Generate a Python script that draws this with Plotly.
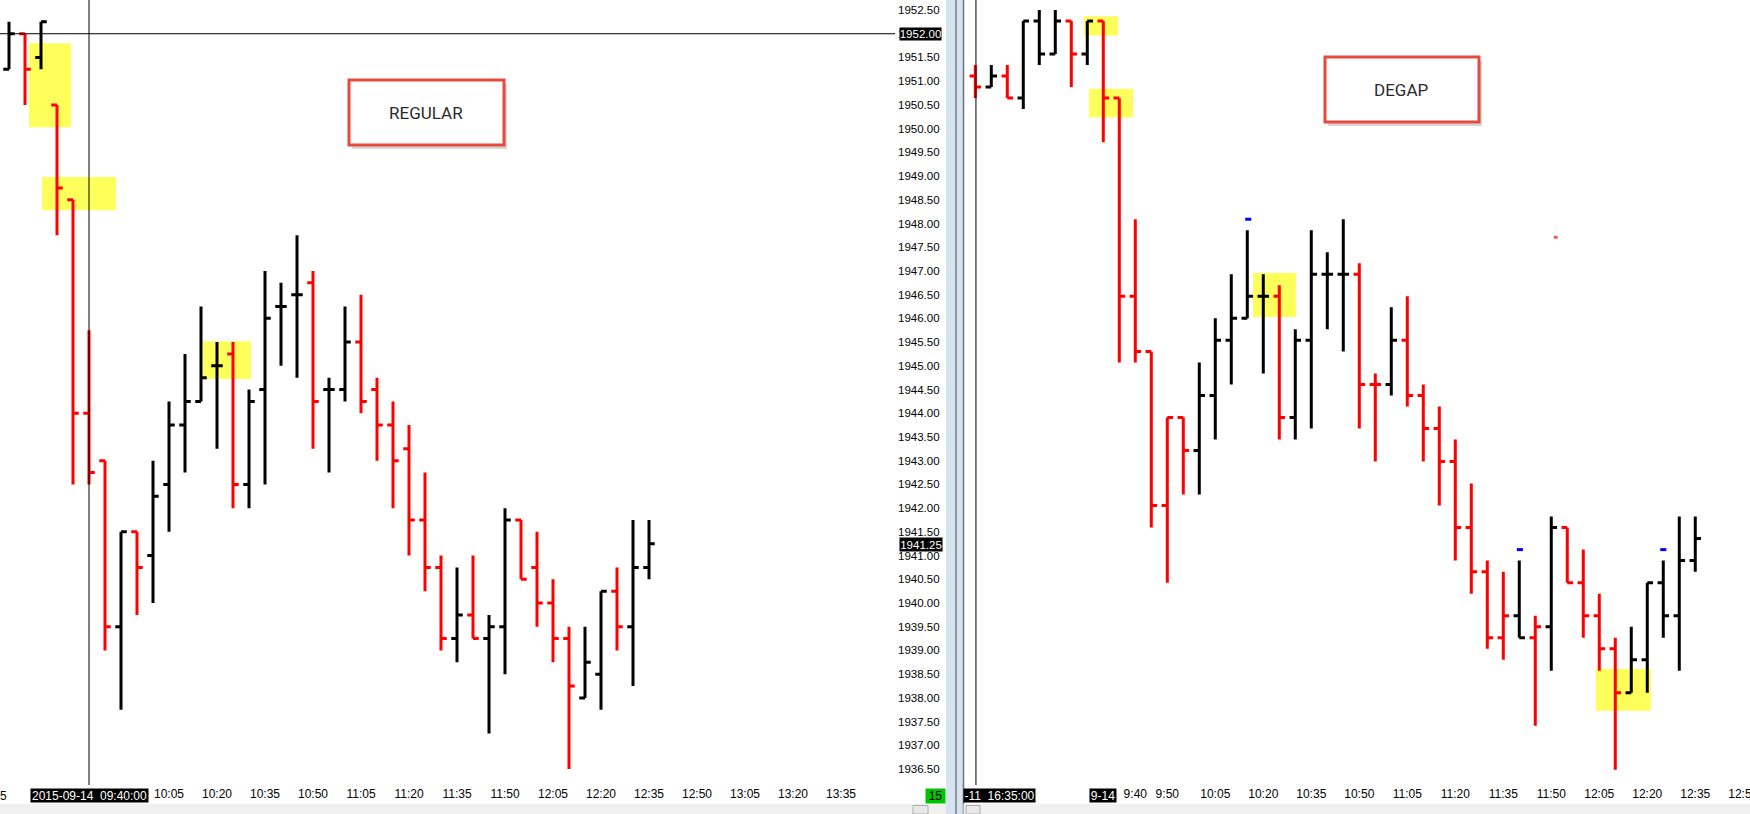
import plotly.graph_objects as go

W, H = 1750, 814

# ---- REGULAR panel (left), 5 min bars, 2015-09-14
left_times = ["09:15", "09:20", "09:25", "09:30", "09:35", "09:40", "09:45", "09:50", "09:55", "10:00",
              "10:05", "10:10", "10:15", "10:20", "10:25", "10:30", "10:35", "10:40", "10:45", "10:50",
              "10:55", "11:00", "11:05", "11:10", "11:15", "11:20", "11:25", "11:30", "11:35", "11:40",
              "11:45", "11:50", "11:55", "12:00", "12:05", "12:10", "12:15", "12:20", "12:25", "12:30",
              "12:35"]
left_open = [1951.25, 1952.0, 1951.5, 1950.5, 1948.5, 1944.0, 1943.0, 1939.5, 1941.5, 1941.0,
             1942.5, 1943.75, 1944.25, 1945.0, 1945.25, 1942.5, 1944.5, 1946.25, 1946.5, 1946.75,
             1944.5, 1944.5, 1945.5, 1944.5, 1943.75, 1943.25, 1941.75, 1940.75, 1939.25, 1939.75,
             1939.25, 1939.5, 1941.75, 1940.75, 1940.0, 1939.25, 1938.0, 1938.5, 1940.25, 1939.5,
             1940.75]
left_high = [1952.25, 1952.0, 1952.25, 1950.5, 1948.5, 1945.75, 1943.0, 1941.5, 1941.5, 1943.0,
             1944.25, 1945.25, 1946.25, 1945.5, 1945.5, 1944.5, 1947.0, 1946.75, 1947.75, 1947.0,
             1944.75, 1946.25, 1946.5, 1944.75, 1944.25, 1943.75, 1942.75, 1941.0, 1940.75, 1941.0,
             1939.75, 1942.0, 1941.75, 1941.5, 1940.5, 1939.5, 1939.5, 1940.25, 1940.75, 1941.75,
             1941.75]
left_low = [1951.25, 1950.5, 1951.25, 1947.75, 1942.5, 1942.5, 1939.0, 1937.75, 1939.75, 1940.0,
            1941.5, 1942.75, 1944.25, 1943.25, 1942.0, 1942.0, 1942.5, 1945.0, 1944.75, 1943.25,
            1942.75, 1944.25, 1944.0, 1943.0, 1942.0, 1941.0, 1940.25, 1939.0, 1938.75, 1939.25,
            1937.25, 1938.5, 1940.5, 1939.5, 1938.75, 1936.5, 1938.0, 1937.75, 1939.0, 1938.25,
            1940.5]
left_close = [1952.0, 1951.25, 1952.25, 1948.75, 1944.0, 1942.75, 1939.5, 1941.5, 1940.75, 1942.25,
              1943.75, 1944.25, 1944.75, 1945.0, 1942.5, 1944.25, 1946.0, 1946.25, 1946.5, 1944.25,
              1944.5, 1945.5, 1944.25, 1943.75, 1943.0, 1941.75, 1940.75, 1939.25, 1939.75, 1939.25,
              1939.5, 1941.75, 1940.5, 1940.0, 1939.25, 1938.25, 1938.75, 1940.25, 1939.5, 1940.75,
              1941.25]
left_color = ["k", "r", "k", "r", "r", "r", "r", "k", "r", "k",
              "k", "k", "k", "k", "r", "k", "k", "k", "k", "r",
              "k", "k", "r", "r", "r", "r", "r", "r", "k", "r",
              "k", "k", "r", "r", "r", "r", "k", "k", "r", "k",
              "k"]

# ---- DEGAP panel (right)
right_times = ["08:50", "08:55", "09:00", "09:05", "09:10", "09:15", "09:20", "09:25", "09:30", "09:35",
               "09:40", "09:45", "09:50", "09:55", "10:00", "10:05", "10:10", "10:15", "10:20", "10:25",
               "10:30", "10:35", "10:40", "10:45", "10:50", "10:55", "11:00", "11:05", "11:10", "11:15",
               "11:20", "11:25", "11:30", "11:35", "11:40", "11:45", "11:50", "11:55", "12:00", "12:05",
               "12:10", "12:15", "12:20", "12:25", "12:30", "12:35"]
right_open = [1951.75, 1951.5, 1951.75, 1951.25, 1953.0, 1952.25, 1953.0, 1952.25, 1953.0, 1951.25,
              1946.75, 1945.5, 1942.0, 1944.0, 1943.25, 1944.5, 1945.75, 1946.25, 1946.75, 1946.75,
              1944.0, 1945.75, 1947.25, 1947.25, 1947.25, 1944.75, 1944.75, 1945.75, 1944.5, 1943.75,
              1943.0, 1941.5, 1940.5, 1939.0, 1939.5, 1939.0, 1939.25, 1941.5, 1940.25, 1939.5,
              1938.75, 1937.75, 1938.5, 1940.25, 1939.5, 1940.75]
right_high = [1952.0, 1952.0, 1952.0, 1953.0, 1953.25, 1953.25, 1953.0, 1953.0, 1953.0, 1951.25,
              1948.5, 1945.5, 1944.0, 1944.0, 1945.25, 1946.25, 1947.25, 1948.25, 1947.25, 1947.0,
              1946.0, 1948.25, 1947.75, 1948.5, 1947.5, 1945.0, 1946.5, 1946.75, 1944.75, 1944.25,
              1943.5, 1942.5, 1940.75, 1940.5, 1940.75, 1939.5, 1941.75, 1941.5, 1941.0, 1940.0,
              1939.0, 1939.25, 1940.25, 1940.75, 1941.75, 1941.75]
right_low = [1951.25, 1951.5, 1951.25, 1951.0, 1952.0, 1952.25, 1951.5, 1952.0, 1950.25, 1945.25,
             1945.25, 1941.5, 1940.25, 1942.25, 1942.25, 1943.5, 1944.75, 1946.25, 1945.0, 1943.5,
             1943.5, 1943.75, 1946.0, 1945.5, 1943.75, 1943.0, 1944.5, 1944.25, 1943.0, 1942.0,
             1940.75, 1940.0, 1938.75, 1938.5, 1939.0, 1937.0, 1938.25, 1940.25, 1939.0, 1938.25,
             1936.0, 1937.75, 1937.75, 1939.0, 1938.25, 1940.5]
right_close = [1951.5, 1951.75, 1951.25, 1953.0, 1952.25, 1953.0, 1952.25, 1953.0, 1951.25, 1946.75,
               1945.5, 1942.0, 1944.0, 1943.25, 1944.5, 1945.75, 1946.25, 1946.75, 1946.75, 1944.0,
               1945.75, 1947.25, 1947.25, 1947.25, 1944.75, 1944.75, 1945.75, 1944.5, 1943.75, 1943.0,
               1941.5, 1940.5, 1939.0, 1939.5, 1939.0, 1939.25, 1941.5, 1940.25, 1939.5, 1938.75,
               1937.75, 1938.5, 1940.25, 1939.5, 1940.75, 1941.25]
right_color = ["r", "k", "r", "k", "k", "k", "r", "k", "r", "r",
               "r", "r", "r", "r", "k", "k", "k", "k", "k", "r",
               "k", "k", "k", "k", "r", "r", "k", "r", "r", "r",
               "r", "r", "r", "r", "k", "r", "k", "r", "r", "r",
               "r", "k", "k", "k", "k", "k"]

# axis labels
price_ticks = ["1936.50", "1937.00", "1937.50", "1938.00", "1938.50", "1939.00", "1939.50", "1940.00",
               "1940.50", "1941.00", "1941.50", "1942.00", "1942.50", "1943.00", "1943.50", "1944.00",
               "1944.50", "1945.00", "1945.50", "1946.00", "1946.50", "1947.00", "1947.50", "1948.00",
               "1948.50", "1949.00", "1949.50", "1950.00", "1950.50", "1951.00", "1951.50", "1952.00",
               "1952.50"]
left_ticks = ["10:05", "10:20", "10:35", "10:50", "11:05", "11:20", "11:35", "11:50", "12:05", "12:20",
              "12:35", "12:50", "13:05", "13:20", "13:35"]
right_ticks = ["9:40", "9:50", "10:05", "10:20", "10:35", "10:50", "11:05", "11:20", "11:35", "11:50",
               "12:05", "12:20", "12:35", "12:50"]

COLORS = {"k": "#000000", "r": "#ff0000"}
TICK_FONT = "Liberation Sans Narrow, Liberation Sans, Arial, sans-serif"
PRICE_FONT = "Liberation Sans, Arial, sans-serif"


def mins(t):
    h, m = t.split(":")
    return int(h) * 60 + int(m)


def bar_index(t, first):
    return (mins(t) - mins(first)) / 5.0


def px(xp):
    return xp / W


def py(yp):
    return 1 - yp / H


left_x = [bar_index(t, left_times[0]) for t in left_times]
right_x = [bar_index(t, right_times[0]) for t in right_times]

fig = go.Figure()


def add_bars(xs, o, h, l, c, col, xa, ya):
    for key in ["k", "r"]:
        idx = [i for i in range(len(xs)) if col[i] == key]
        line = dict(color=COLORS[key], width=3)
        fig.add_trace(go.Ohlc(
            x=[xs[i] for i in idx], open=[o[i] for i in idx], high=[h[i] for i in idx],
            low=[l[i] for i in idx], close=[c[i] for i in idx],
            increasing=dict(line=line), decreasing=dict(line=line),
            tickwidth=0.36, xaxis=xa, yaxis=ya, hoverinfo="skip", showlegend=False))


add_bars(left_x, left_open, left_high, left_low, left_close, left_color, "x", "y")
add_bars(right_x, right_open, right_high, right_low, right_close, right_color, "x2", "y2")

plot_bottom = 785
ydom = [(H - plot_bottom) / H, 1]

axis_common = dict(showgrid=False, zeroline=False, showline=False, ticks="", fixedrange=True)

fig.update_layout(
    template="none",
    width=W, height=H,
    margin=dict(l=0, r=0, t=0, b=0),
    paper_bgcolor="white", plot_bgcolor="white",
    showlegend=False,
    xaxis=dict(domain=[0, 897 / W], range=[-0.5625, 55.5], anchor="y",
               tickvals=[bar_index(t, left_times[0]) for t in left_ticks], ticktext=left_ticks,
               tickfont=dict(family=TICK_FONT, size=12, color="black"),
               rangeslider=dict(visible=False), automargin=False, **axis_common),
    yaxis=dict(domain=ydom, range=[1936.164, 1952.711], anchor="x", side="right",
               tickvals=[float(v) for v in price_ticks], ticktext=price_ticks,
               tickfont=dict(family=PRICE_FONT, size=11.5, color="black"),
               automargin=False, **axis_common),
    xaxis2=dict(domain=[964 / W, 1], range=[-0.706, 48.42], anchor="y2",
                tickvals=[bar_index(t, right_times[0]) for t in
                          [("0" + t if len(t) == 4 else t) for t in right_ticks]],
                ticktext=right_ticks, ticklabeloverflow="allow",
                tickfont=dict(family=TICK_FONT, size=12, color="black"),
                rangeslider=dict(visible=False), automargin=False, **axis_common),
    yaxis2=dict(domain=ydom, range=[1935.656, 1953.477], anchor="x2", side="right",
                showticklabels=False, automargin=False, **axis_common),
)

shapes = []

# yellow highlights (below bars)
yellow = "#ffff5c"
for x0, x1, y0, y1 in [(1.25, 3.875, 1950.03, 1951.80), (2.06, 6.69, 1948.28, 1948.98),
                       (12.125, 15.125, 1944.72, 1945.52)]:
    shapes.append(dict(type="rect", xref="x", yref="y", x0=x0, x1=x1, y0=y0, y1=y1,
                       fillcolor=yellow, line_width=0, layer="below"))
for x0, x1, y0, y1 in [(6.79, 8.92, 1952.67, 1953.11), (7.11, 9.86, 1950.81, 1951.46),
                       (17.36, 20.04, 1946.28, 1947.28), (38.79, 42.23, 1937.34, 1938.29)]:
    shapes.append(dict(type="rect", xref="x2", yref="y2", x0=x0, x1=x1, y0=y0, y1=y1,
                       fillcolor=yellow, line_width=0, layer="below"))

# crosshairs
shapes.append(dict(type="line", xref="x", yref="paper", x0=5, x1=5, y0=py(plot_bottom), y1=1,
                   line=dict(color="black", width=1)))
shapes.append(dict(type="line", xref="paper", yref="y", x0=0, x1=px(895), y0=1952.0, y1=1952.0,
                   line=dict(color="black", width=1)))
shapes.append(dict(type="line", xref="x2", yref="paper", x0=0.04, x1=0.04, y0=py(plot_bottom), y1=1,
                   line=dict(color="black", width=1)))

# small markers on the degap chart
for xm, ym in [(17.06, 1948.5), (34.04, 1941.0), (43.0, 1941.0)]:
    shapes.append(dict(type="line", xref="x2", yref="y2", x0=xm - 0.19, x1=xm + 0.19, y0=ym, y1=ym,
                       line=dict(color="#0000ff", width=3)))
shapes.append(dict(type="line", xref="x2", yref="y2", x0=36.15, x1=36.4, y0=1948.09, y1=1948.09,
                   line=dict(color="#f06060", width=3)))

# panel separator
shapes.append(dict(type="rect", xref="paper", yref="paper", x0=px(946), x1=px(963), y0=0, y1=1,
                   fillcolor="#d6e4f2", line_width=0))
shapes.append(dict(type="line", xref="paper", yref="paper", x0=px(956), x1=px(956), y0=0, y1=1,
                   line=dict(color="#8f959c", width=2)))
shapes.append(dict(type="line", xref="paper", yref="paper", x0=px(963.5), x1=px(963.5), y0=0, y1=1,
                   line=dict(color="#6c7076", width=1.5)))

# bottom scroll strip
for x0, x1 in [(0, 946), (963.5, W)]:
    shapes.append(dict(type="rect", xref="paper", yref="paper", x0=px(x0), x1=px(x1), y0=0, y1=py(804),
                       fillcolor="#f0f0f0", line_width=0))
for x0, x1 in [(913, 928), (966, 980)]:
    shapes.append(dict(type="rect", xref="paper", yref="paper", x0=px(x0), x1=px(x1), y0=py(814),
                       y1=py(805.5), fillcolor="#e8e8e8", line=dict(color="#adadad", width=1)))

# label boxes
for (x0, x1, y0, y1, txt, cx, cy) in [(349, 504, 80, 145, "REGULAR", 426, 113),
                                      (1325, 1479, 57, 122, "DEGAP", 1401, 90)]:
    shapes.append(dict(type="rect", xref="paper", yref="paper", x0=px(x0 + 3), x1=px(x1 + 3),
                       y0=py(y1 + 4), y1=py(y0 + 4), fillcolor="rgba(0,0,0,0.16)", line_width=0))
    shapes.append(dict(type="rect", xref="paper", yref="paper", x0=px(x0), x1=px(x1),
                       y0=py(y1), y1=py(y0), fillcolor="white", line=dict(color="#e8493f", width=3)))
    fig.add_annotation(text=txt, xref="paper", yref="paper", x=px(cx), y=py(cy), showarrow=False,
                       xanchor="center", yanchor="middle",
                       font=dict(family="Roboto, Arial, sans-serif", size=17, color="#2a2a2a"))

fig.update_layout(shapes=shapes)


def tag(txt, cx, cy, w, h, bg="black", fg="white", font=TICK_FONT, size=12):
    fig.add_annotation(text=txt, xref="paper", yref="paper", x=px(cx), y=py(cy), showarrow=False,
                       xanchor="center", yanchor="middle", width=w, height=h, bgcolor=bg, borderpad=0,
                       font=dict(family=font, size=size, color=fg))


# crosshair / price tags
tag("1952.00", 920.5, 33.7, 41, 12, font=PRICE_FONT, size=11.5)
tag("1941.25", 920.5, 544.5, 42, 13, font=PRICE_FONT, size=11.5)
tag("2015-09-14  09:40:00", 89.5, 795.5, 117, 13)
tag("9-14", 1103, 795.5, 26, 13)
tag("-11  16:35:00", 999, 795.5, 71, 13)
tag("15", 935.5, 795.5, 19, 14, bg="#00c400", fg="black")
fig.add_annotation(text="5", xref="paper", yref="paper", x=px(3), y=py(795.5), showarrow=False,
                   xanchor="center", yanchor="middle", font=dict(family=TICK_FONT, size=12, color="black"))

# page body has a default 8px margin, drop it so the figure sits at the window corner
fig.write_html("out.html", config={"displayModeBar": False},
               post_script="document.body.style.margin='0';document.body.style.overflow='hidden';")
